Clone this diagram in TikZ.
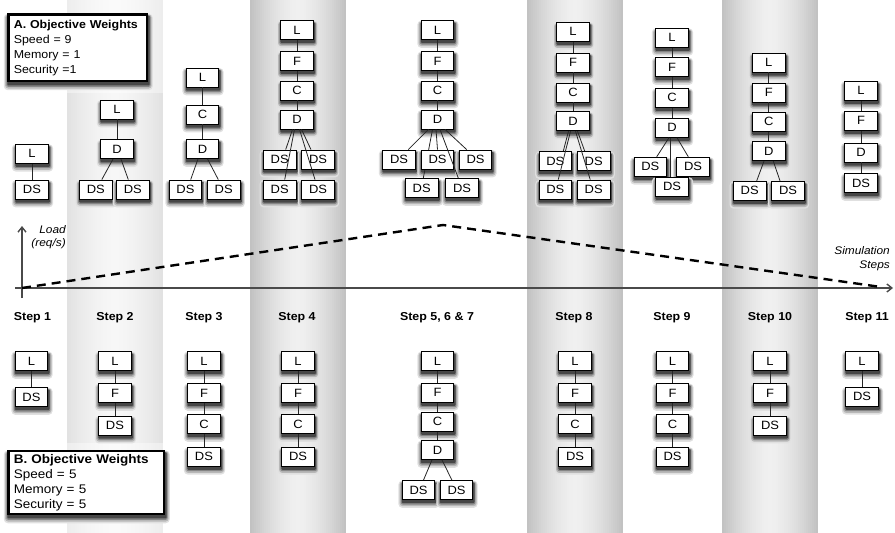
\documentclass[tikz,border=0pt]{standalone}
\usepackage{fontspec}
\setmainfont{Liberation Sans}[FakeStretch=1.08]
\usetikzlibrary{arrows.meta}
\pgfdeclarelayer{columns}
\pgfdeclarelayer{behind}
\pgfsetlayers{columns,behind,main}
\definecolor{colEdge}{HTML}{C2C2C2}
\definecolor{colMid}{HTML}{F0F0F0}
\definecolor{lightEdge}{HTML}{E2E2E2}
\definecolor{lightMid}{HTML}{F7F7F7}
\definecolor{paleEdge}{HTML}{EDEDED}
\definecolor{paleMid}{HTML}{FAFAFA}
\definecolor{axisgray}{HTML}{4A4A4A}

% a vertical band 96pt wide, built from thin stripes that fade
% from the edge colour (#4) to the centre colour (#5)
\newcommand\colstripes[5]{%
  \foreach \i in {0,...,47}{%
    \pgfmathtruncatemacro\mix{100*(1-(abs(\i-23.5)/23.5)^1.6)}%
    \fill[fill=#5!\mix!#4] ({#1+2*\i},#2) rectangle ({#1+2*\i+2.1},#3);
  }}

% soft drop shadow under a named node, built from nested rounded fills
\newcommand\boxshadow[1]{%
  \fill[black!12,rounded corners=4pt] ([shift={(-3.5,8)}]#1.south west) rectangle ([shift={(4.5,0.5)}]#1.north east);
  \fill[black!28,rounded corners=3pt] ([shift={(-2.2,6.3)}]#1.south west) rectangle ([shift={(3.4,1.3)}]#1.north east);
  \fill[black!48,rounded corners=2pt] ([shift={(-1,4.6)}]#1.south west) rectangle ([shift={(2.3,2)}]#1.north east);
  \fill[black!72,rounded corners=1pt] ([shift={(0,3.2)}]#1.south west) rectangle ([shift={(1.4,2.4)}]#1.north east);
}

\begin{document}
\begin{tikzpicture}[x=1pt,y=-1pt,
  box/.style={draw=black,line width=0.8pt,fill=white,minimum width=32.5pt,
    minimum height=19pt,inner sep=0pt,font=\fontsize{12}{12}\selectfont},
  link/.style={line width=0.8pt,black!85},
  steplabel/.style={font=\bfseries\fontsize{11.5}{12}\selectfont},
  legend/.style={draw=black,line width=2.2pt,fill=white,align=left,anchor=north west,
    inner xsep=5.4pt},
  axisline/.style={draw=axisgray,line width=1.4pt},
  note/.style={font=\itshape\fontsize{11}{12}\selectfont,anchor=east,inner sep=0pt}
]
\useasboundingbox (0,0) rectangle (895,533);

% shaded step columns
\begin{pgfonlayer}{columns}
  \colstripes{67}{0}{93}{paleEdge}{paleMid}
  \colstripes{67}{93}{443}{lightEdge}{lightMid}
  \colstripes{67}{443}{533}{paleEdge}{paleMid}
  \colstripes{250}{0}{533}{colEdge}{colMid}
  \colstripes{527}{0}{533}{colEdge}{colMid}
  \colstripes{722}{0}{533}{colEdge}{colMid}
\end{pgfonlayer}

% objective weight legends
\node[legend,text width=128pt,inner ysep=5.5pt,font=\fontsize{11.5}{15}\selectfont] (legA) at (7.3,13.3)
  {\textbf{A. Objective Weights}\\Speed = 9\\Memory = 1\\Security =1};
\node[legend,text width=145pt,inner ysep=3.2pt,font=\fontsize{12.5}{15}\selectfont] (legB) at (7.3,450)
  {\textbf{B. Objective Weights}\\Speed = 5\\Memory = 5\\Security = 5};

% load axes
\coordinate (xo) at (15,288);
\coordinate (xe) at (893,288);
\coordinate (yo) at (22,298);
\coordinate (ye) at (22,226);
\draw[axisline,-{Straight Barb[length=5pt,width=8pt]}] (xo) -- (xe);
\draw[axisline,-{Straight Barb[length=5pt,width=8pt]}] (yo) -- (ye);
\coordinate (d0) at (22,288);
\coordinate (peak) at (443,225);
\coordinate (d1) at (881,287);
\draw[line width=2.4pt,dash pattern=on 9pt off 6pt] (d0) -- (peak) -- (d1);
\node[note] (load1) at (66,230) {Load};
\node[note] (load2) at (66,244) {(req/s)};
\node[note] (sim1) at (890,251) {Simulation};
\node[note] (sim2) at (890,266) {Steps};

% step labels
\node[steplabel] (s1) at (32.5,318) {Step 1};
\node[steplabel] (s2) at (115,318) {Step 2};
\node[steplabel] (s3) at (204,318) {Step 3};
\node[steplabel] (s4) at (297,318) {Step 4};
\node[steplabel] (s5) at (437,318) {Step 5, 6 \& 7};
\node[steplabel] (s8) at (574,318) {Step 8};
\node[steplabel] (s9) at (672,318) {Step 9};
\node[steplabel] (s10) at (770,318) {Step 10};
\node[steplabel] (s11) at (867,318) {Step 11};

% ---------- configurations under weights A ----------
% step 1
\node[box] (a1L) at (32,153.7) {L};
\node[box] (a1S) at (32,189.5) {DS};
\draw[link] (a1L) -- (a1S);
% step 2
\node[box] (a2L) at (117,109.5) {L};
\node[box] (a2D) at (117,149.2) {D};
\node[box] (a2S1) at (95.8,189.5) {DS};
\node[box] (a2S2) at (132.8,189.5) {DS};
\draw[link] (a2L) -- (a2D);
\draw[link] ([xshift=-4pt]a2D.south) -- ([xshift=6pt]a2S1.north);
\draw[link] ([xshift=4pt]a2D.south) -- ([xshift=-4.5pt]a2S2.north);
% step 3
\node[box] (a3L) at (202.5,77.5) {L};
\node[box] (a3C) at (202.5,114.5) {C};
\node[box] (a3D) at (202.5,149) {D};
\node[box] (a3S1) at (185.5,189.5) {DS};
\node[box] (a3S2) at (223.7,189.5) {DS};
\draw[link] (a3L) -- (a3C) -- (a3D);
\draw[link] ([xshift=-4.5pt]a3D.south) -- ([xshift=5.2pt]a3S1.north);
\draw[link] ([xshift=5pt]a3D.south) -- ([xshift=-5.4pt]a3S2.north);
% step 4
\node[box] (a4L) at (297,30) {L};
\node[box] (a4F) at (297,61) {F};
\node[box] (a4C) at (297,90.5) {C};
\node[box] (a4D) at (297,119.5) {D};
\node[box] (a4S1) at (279.7,159.5) {DS};
\node[box] (a4S2) at (318,159.5) {DS};
\node[box] (a4S3) at (279.7,189.5) {DS};
\node[box] (a4S4) at (318,189.5) {DS};
\draw[link] (a4L) -- (a4F) -- (a4C) -- (a4D);
\draw[link] ([xshift=-4.5pt]a4D.south) -- ([xshift=6pt]a4S1.north);
\draw[link] ([xshift=-2.5pt]a4D.south) -- ([xshift=5pt]a4S3.north);
\draw[link] ([xshift=4.5pt]a4D.south) -- ([xshift=-7pt]a4S2.north);
\draw[link] ([xshift=2.5pt]a4D.south) -- ([xshift=-3pt]a4S4.north);
% steps 5, 6 & 7
\node[box] (a5L) at (437.5,30) {L};
\node[box] (a5F) at (437.5,61) {F};
\node[box] (a5C) at (437.5,90.5) {C};
\node[box] (a5D) at (437.5,119.5) {D};
\node[box] (a5S1) at (399,159.5) {DS};
\node[box] (a5S2) at (437.5,159.5) {DS};
\node[box] (a5S3) at (475.5,159.5) {DS};
\node[box] (a5S4) at (421.7,188) {DS};
\node[box] (a5S5) at (462,188) {DS};
\draw[link] (a5L) -- (a5F) -- (a5C) -- (a5D);
\draw[link] ([xshift=-9pt]a5D.south) -- ([xshift=9.3pt]a5S1.north);
\draw[link] ([xshift=-1.5pt]a5D.south) -- ([xshift=0pt]a5S2.north);
\draw[link] ([xshift=2.5pt]a5D.south) -- ([xshift=-3.7pt]a5S5.north);
\draw[link] ([xshift=7.5pt]a5D.south) -- ([xshift=-8.8pt]a5S3.north);
% step 8
\node[box] (a8L) at (573,31.7) {L};
\node[box] (a8F) at (573,62.5) {F};
\node[box] (a8C) at (573,92.5) {C};
\node[box] (a8D) at (573,121.3) {D};
\node[box] (a8S1) at (555.3,161) {DS};
\node[box] (a8S2) at (593.7,161) {DS};
\node[box] (a8S3) at (555.3,189.5) {DS};
\node[box] (a8S4) at (593.7,189.5) {DS};
\draw[link] (a8L) -- (a8F) -- (a8C) -- (a8D);
\draw[link] ([xshift=-4.5pt]a8D.south) -- ([xshift=8pt]a8S1.north);
\draw[link] ([xshift=-2.5pt]a8D.south) -- ([xshift=3pt]a8S3.north);
\draw[link] ([xshift=4.5pt]a8D.south) -- ([xshift=-9pt]a8S2.north);
\draw[link] ([xshift=2.5pt]a8D.south) -- ([xshift=-3.5pt]a8S4.north);
% step 9
\node[box] (a9L) at (672,37.8) {L};
\node[box] (a9F) at (672,67) {F};
\node[box] (a9C) at (672,97.8) {C};
\node[box] (a9D) at (672,127.8) {D};
\node[box] (a9S1) at (650.3,166.7) {DS};
\node[box] (a9S2) at (693,166.7) {DS};
\node[box] (a9S3) at (672,186.7) {DS};
\draw[link] (a9L) -- (a9F) -- (a9C) -- (a9D);
\draw[link] ([xshift=-3pt]a9D.south) -- ([xshift=6.4pt]a9S1.north);
\draw[link] ([xshift=5pt]a9D.south) -- ([xshift=-4.7pt]a9S2.north);
\draw[link] ([xshift=-1.3pt]a9D.south) -- ([xshift=-1.3pt]a9S3.north);
% step 10
\node[box] (a10L) at (768.8,62.5) {L};
\node[box] (a10F) at (768.8,92.5) {F};
\node[box] (a10C) at (768.8,121.8) {C};
\node[box] (a10D) at (768.8,151.2) {D};
\node[box] (a10S1) at (749.7,190.8) {DS};
\node[box] (a10S2) at (788,190.8) {DS};
\draw[link] (a10L) -- (a10F) -- (a10C) -- (a10D);
\draw[link] ([xshift=-4.8pt]a10D.south) -- ([xshift=7pt]a10S1.north);
\draw[link] ([xshift=4.5pt]a10D.south) -- ([xshift=-8pt]a10S2.north);
% step 11
\node[box] (a11L) at (861,90.8) {L};
\node[box] (a11F) at (861,120.8) {F};
\node[box] (a11D) at (861,152.5) {D};
\node[box] (a11S) at (861,183) {DS};
\draw[link] (a11L) -- (a11F) -- (a11D) -- (a11S);

% ---------- configurations under weights B ----------
% step 1
\node[box] (b1L) at (31.5,361) {L};
\node[box] (b1S) at (31.5,397) {DS};
\draw[link] (b1L) -- (b1S);
% step 2
\node[box] (b2L) at (115,361) {L};
\node[box] (b2F) at (115,393) {F};
\node[box] (b2S) at (115,425.5) {DS};
\draw[link] (b2L) -- (b2F) -- (b2S);
% step 3
\node[box] (b3L) at (204,361) {L};
\node[box] (b3F) at (204,393) {F};
\node[box] (b3C) at (204,424) {C};
\node[box] (b3S) at (204,456.7) {DS};
\draw[link] (b3L) -- (b3F) -- (b3C) -- (b3S);
% step 4
\node[box] (b4L) at (298,361) {L};
\node[box] (b4F) at (298,393) {F};
\node[box] (b4C) at (298,424) {C};
\node[box] (b4S) at (298,456.7) {DS};
\draw[link] (b4L) -- (b4F) -- (b4C) -- (b4S);
% steps 5, 6 & 7
\node[box] (b5L) at (437.5,361) {L};
\node[box] (b5F) at (437.5,392.7) {F};
\node[box] (b5C) at (437.5,421.7) {C};
\node[box] (b5D) at (437.5,450) {D};
\node[box] (b5S1) at (418.5,490) {DS};
\node[box] (b5S2) at (456.5,490) {DS};
\draw[link] (b5L) -- (b5F) -- (b5C) -- (b5D);
\draw[link] ([xshift=-5.5pt]b5D.south) -- ([xshift=5pt]b5S1.north);
\draw[link] ([xshift=4.5pt]b5D.south) -- ([xshift=-4.6pt]b5S2.north);
% step 8
\node[box] (b8L) at (575,361) {L};
\node[box] (b8F) at (575,393) {F};
\node[box] (b8C) at (575,424) {C};
\node[box] (b8S) at (575,456.7) {DS};
\draw[link] (b8L) -- (b8F) -- (b8C) -- (b8S);
% step 9
\node[box] (b9L) at (672.5,361) {L};
\node[box] (b9F) at (672.5,393) {F};
\node[box] (b9C) at (672.5,424) {C};
\node[box] (b9S) at (672.5,456.7) {DS};
\draw[link] (b9L) -- (b9F) -- (b9C) -- (b9S);
% step 10
\node[box] (b10L) at (770,361) {L};
\node[box] (b10F) at (770,393) {F};
\node[box] (b10S) at (770,425.5) {DS};
\draw[link] (b10L) -- (b10F) -- (b10S);
% step 11
\node[box] (b11L) at (862,361) {L};
\node[box] (b11S) at (862,396.7) {DS};
\draw[link] (b11L) -- (b11S);

% drop shadows, then the one link that runs behind the boxes
\begin{pgfonlayer}{behind}
  \foreach \n in {a1L,a1S,a2L,a2D,a2S1,a2S2,a3L,a3C,a3D,a3S1,a3S2,
      a4L,a4F,a4C,a4D,a4S1,a4S2,a4S3,a4S4,a5L,a5F,a5C,a5D,a5S1,a5S2,a5S3,a5S4,a5S5,
      a8L,a8F,a8C,a8D,a8S1,a8S2,a8S3,a8S4,a9L,a9F,a9C,a9D,a9S1,a9S2,a9S3,
      a10L,a10F,a10C,a10D,a10S1,a10S2,a11L,a11F,a11D,a11S,
      b1L,b1S,b2L,b2F,b2S,b3L,b3F,b3C,b3S,b4L,b4F,b4C,b4S,
      b5L,b5F,b5C,b5D,b5S1,b5S2,b8L,b8F,b8C,b8S,b9L,b9F,b9C,b9S,
      b10L,b10F,b10S,b11L,b11S,legA,legB}{\boxshadow{\n}}
  \draw[link] ([xshift=-5pt]a5D.south) -- ([xshift=1.6pt]a5S4.north);
\end{pgfonlayer}
\end{tikzpicture}
\end{document}
